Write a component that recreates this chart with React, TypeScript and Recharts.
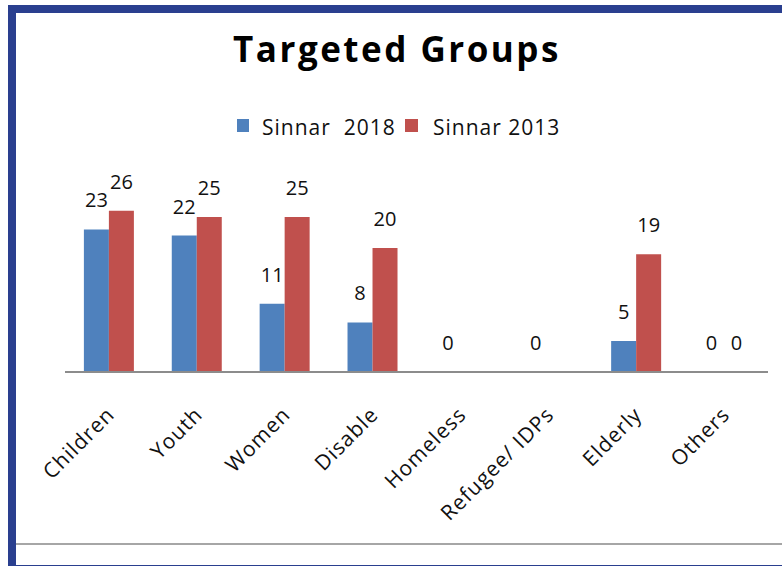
import React from 'react';
import { BarChart, Bar, XAxis, YAxis, LabelList, Legend } from 'recharts';

const categories = ['Children', 'Youth', 'Women', 'Disable', 'Homeless', 'Refugee/ IDPs', 'Elderly', 'Others'];
const sinnar2018 = [23, 22, 11, 8, 0, 0, 5, 0];
const sinnar2013: (number | null)[] = [26, 25, 25, 20, null, null, 19, 0];
const seriesNames = ['Sinnar  2018', 'Sinnar 2013'];
const seriesColors = ['#4F81BD', '#C0504D'];
const yDomain = [0, 30];
const titleText = 'Targeted Groups';

const data = categories.map((c, i) => ({ name: c, s2018: sinnar2018[i], s2013: sinnar2013[i] }));

const FONT = '"Open Sans", "Liberation Sans", sans-serif';

// keep zero-valued bars in the layout (hairline height) so their labels are drawn
const zeroKeep = (value: any) => (value === 0 ? 0.01 : 0);

const renderLabel = (props: any) => {
  const { x, y, width, height, value } = props;
  if (value === null || value === undefined) return null;
  const top = Number(height) < 0 ? Number(y) + Number(height) : Number(y);
  return (
    <text x={Number(x) + Number(width) / 2} y={top - 22} textAnchor="middle" fontSize={20} fill="#111" fontFamily={FONT}>
      {value}
    </text>
  );
};

const XTick = (props: any) => {
  const { x, y, payload } = props;
  return (
    <text
      transform={`translate(${x + 7},${y + 36}) rotate(-45)`}
      textAnchor="end"
      fontSize={21}
      letterSpacing={1}
      fill="#111"
      fontFamily={FONT}
    >
      {payload.value}
    </text>
  );
};

const LegendContent = () => (
  <svg width={400} height={30} style={{ display: 'block' }}>
    <rect x={7} y={9} width={12} height={13} fill={seriesColors[0]} />
    <text x={32} y={25} fontSize={21} letterSpacing={1} fill="#111" fontFamily={FONT} style={{ whiteSpace: 'pre' }}>
      {seriesNames[0]}
    </text>
    <rect x={175} y={9} width={13} height={13} fill={seriesColors[1]} />
    <text x={203} y={25} fontSize={21} letterSpacing={1} fill="#111" fontFamily={FONT} style={{ whiteSpace: 'pre' }}>
      {seriesNames[1]}
    </text>
  </svg>
);

export default function App() {
  const frame = '#2A3F8F';
  return (
    <div style={{ position: 'relative', width: 782, height: 566, overflow: 'hidden', background: '#fff' }}>
      <style>{`html,body{margin:0;padding:0;overflow:hidden;background:#fff}`}</style>
      <div style={{ position: 'absolute', left: 8, top: 5, width: 8, height: 561, background: frame }} />
      <div style={{ position: 'absolute', left: 8, top: 5, width: 774, height: 8, background: frame }} />
      <div style={{ position: 'absolute', left: 16, top: 543, width: 766, height: 2, background: '#A6A6A6' }} />
      <div style={{ position: 'absolute', left: 8, top: 565, width: 774, height: 1, background: frame }} />
      <svg width={782} height={566} style={{ position: 'absolute', left: 0, top: 0 }}>
        <text x={397} y={62} textAnchor="middle" fontSize={35} fontWeight="bold" letterSpacing={2.5} fill="#000" fontFamily={FONT}>
          {titleText}
        </text>
      </svg>
      <div style={{ position: 'absolute', left: 0, top: 0 }}>
        <BarChart
          width={782}
          height={566}
          data={data}
          margin={{ top: 186, right: 14, bottom: 164, left: 65 }}
          barGap={0}
          barCategoryGap="21.5%"
        >
          <YAxis hide domain={yDomain} />
          <XAxis
            dataKey="name"
            interval={0}
            height={30}
            tickLine={false}
            axisLine={{ stroke: '#8C8C8C', strokeWidth: 2 }}
            tick={<XTick />}
          />
          <Legend
            layout="horizontal"
            verticalAlign="middle"
            align="center"
            content={<LegendContent />}
            wrapperStyle={{ top: 110, left: 230, width: 400, height: 30 }}
          />
          <Bar dataKey="s2018" name={seriesNames[0]} fill={seriesColors[0]} isAnimationActive={false} minPointSize={zeroKeep}>
            <LabelList dataKey="s2018" content={renderLabel} />
          </Bar>
          <Bar dataKey="s2013" name={seriesNames[1]} fill={seriesColors[1]} isAnimationActive={false} minPointSize={zeroKeep}>
            <LabelList dataKey="s2013" content={renderLabel} />
          </Bar>
        </BarChart>
      </div>
    </div>
  );
}
